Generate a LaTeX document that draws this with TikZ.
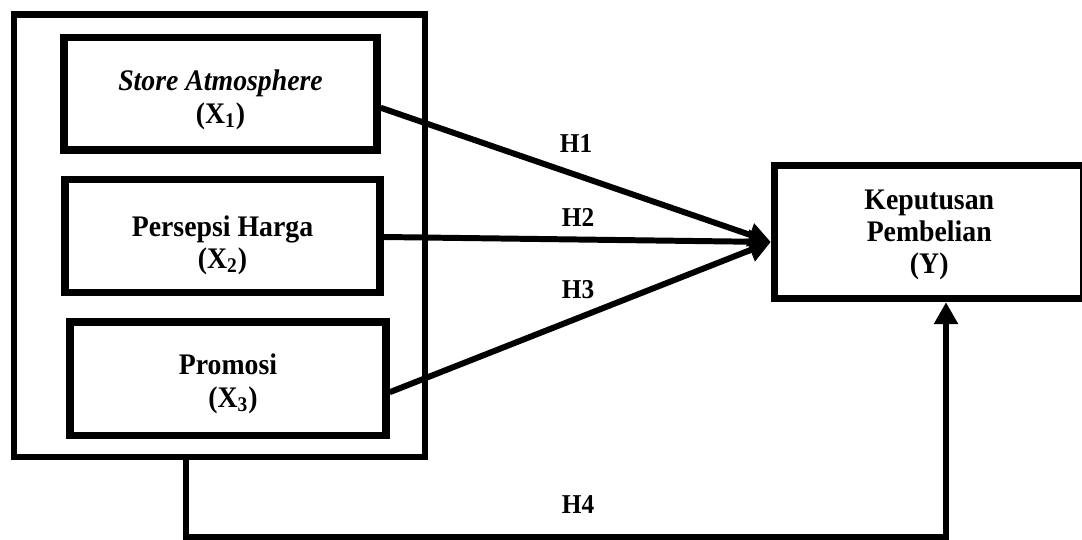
\documentclass[tikz,border=0pt]{standalone}
\usepackage{fontspec}
\setmainfont{Liberation Serif}[FakeStretch=0.93]
\usetikzlibrary{arrows.meta}
\begin{document}
\begin{tikzpicture}
[x=0.02cm,y=-0.02cm,
  boxdecorate/.style={shape=rectangle,draw,line width=4.2pt,inner sep=0pt},%
  textdecorate/.style={align=center,inner sep=0pt,
    font=\bfseries\fontsize{17}{18.3}\selectfont},%
  linedecorate/.style={-{Triangle[length=0.44cm,width=0.46cm]},line width=3.4pt},%
  labeldecorate/.style={font=\bfseries\fontsize{15.5}{17}\selectfont}]
\useasboundingbox (0,0) rectangle (1082,540);
%% outer group box
\node (grp) at (219.5,235.75) [boxdecorate,line width=3.6pt,
  minimum width=8.22cm,minimum height=8.85cm] {};
%% variable boxes and their texts
\foreach \nodename/\x/\y/\w/\h/\dy/\txt in {
  x1/220.5/93.75/6.26/2.25/6/{\textit{Store Atmosphere}\\(X\textsubscript{1})},
  x2/222.5/236/6.3/2.26/9/{Persepsi Harga\\(X\textsubscript{2})},
  x3/228/378.75/6.32/2.27/5/{Promosi\\\hspace{0.2cm}(X\textsubscript{3})},
  kep/929.25/232/6.19/2.66/3/{Keputusan\\Pembelian\\(Y)}} {
  \node (\nodename) at (\x,\y) [boxdecorate,minimum width=\w cm,minimum height=\h cm] {};
  \node (\nodename txt) at (\x,\y+\dy) [textdecorate] {\txt};
}
%% hypothesis labels
\foreach \nodename/\x/\y/\txt in {h1/576/144/H1, h2/578/217/H2, h3/578/290/H3, h4/578/505/H4} {
  \node (\nodename) at (\x,\y) [labeldecorate] {\txt};
}
%% arrows
\draw[linedecorate] ([yshift=-0.28cm]x1.east) -- ([yshift=-0.2cm]kep.west);
\draw[linedecorate] ([yshift=-0.02cm]x2.east) -- ([yshift=-0.2cm]kep.west);
\draw[linedecorate] ([yshift=-0.27cm]x3.east) -- ([yshift=-0.2cm]kep.west);
\coordinate (h4dl) at (186,537);
\coordinate (h4dr) at (946,537);
\draw[linedecorate] (grp.south -| h4dl) -- (h4dl) -- (h4dr) -- (kep.south -| h4dr);
\end{tikzpicture}
\end{document}
